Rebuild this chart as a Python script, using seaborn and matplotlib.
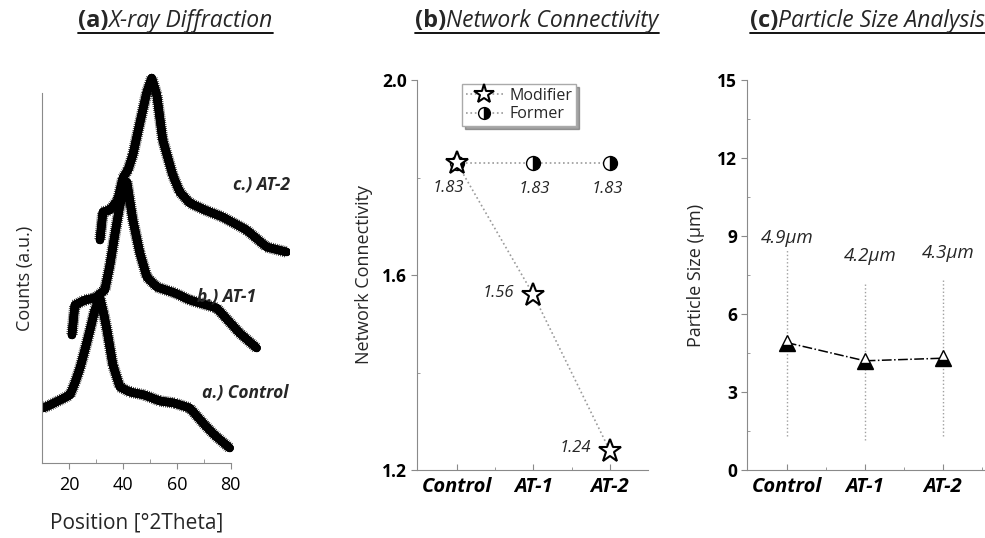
import numpy as np
import pandas as pd
import matplotlib
matplotlib.use("Agg")
import matplotlib.pyplot as plt
from matplotlib.lines import Line2D
import matplotlib.patheffects as pe
import seaborn as sns

# ---------------- data ----------------
# (a) XRD traces (approximate centre of the noisy band), counts in arbitrary units
ctrl_x = [10.4, 13, 16.7, 20.4, 22.2, 24.1, 25.9, 27.8, 29.6, 31.5, 33, 34.1, 36.3, 38.9,
          42.6, 48, 53.7, 59, 64.8, 70.4, 74, 79.6]
ctrl_y = [55, 58, 63, 68, 80, 95, 113, 133, 153, 165, 148, 133, 98, 76,
          71, 68, 62, 60, 55, 38, 28, 15]
at1_x = [21.1, 22.2, 25.9, 29.6, 33.3, 35.2, 37, 38.9, 41.5, 43.7, 46.3, 48.9, 52.6, 59.3,
         64.8, 74.8, 83.3, 89.6]
at1_y = [128, 158, 163, 165, 173, 198, 228, 258, 281, 243, 210, 186, 176, 170,
         163, 155, 130, 115]
at2_x = [31.5, 32.6, 35.2, 38.1, 40, 41.9, 43.7, 46.3, 48.9, 50.7, 52.6, 54.8, 58.5, 61.1,
         64.8, 70.4, 77, 85.9, 93.3, 100.7]
at2_y = [223, 251, 253, 263, 285, 293, 308, 340, 371, 385, 368, 323, 288, 271,
         260, 253, 246, 233, 216, 211]
xrd_labels = ["a.) Control", "b.) AT-1", "c.) AT-2"]
xrd_ticks = [20, 40, 60, 80]

# (b) network connectivity
groups = ["Control", "AT-1", "AT-2"]
modifier = [1.83, 1.56, 1.24]
former = [1.83, 1.83, 1.83]
nc_ticks = [1.2, 1.6, 2.0]

# (c) particle size
psize = [4.9, 4.2, 4.3]
psize_err = [3.6, 3.05, 3.0]
ps_labels = ["4.9\u03bcm", "4.2\u03bcm", "4.3\u03bcm"]
ps_ticks = [0, 3, 6, 9, 12, 15]

# ---------------- style ----------------
sns.set_style("ticks")
plt.rcParams["font.family"] = ["Open Sans", "DejaVu Sans"]
plt.rcParams["axes.edgecolor"] = "#8a8a8a"
plt.rcParams["xtick.color"] = "#8a8a8a"
plt.rcParams["ytick.color"] = "#8a8a8a"
plt.rcParams["xtick.labelcolor"] = "black"
plt.rcParams["ytick.labelcolor"] = "black"

W, H = 985, 538
fig = plt.figure(figsize=(W / 100, H / 100), dpi=100)
fig.canvas.draw()
renderer = fig.canvas.get_renderer()

def rect(l, r, t, b):
    return [l / W, 1 - b / H, (r - l) / W, (b - t) / H]

def title(xa, text_a, text_b):
    ta = fig.text(xa / W, 1 - 27 / H, text_a, fontsize=17, fontweight="bold", ha="left", va="baseline")
    wa = ta.get_window_extent(renderer).x1
    tb = fig.text(wa / W, 1 - 27 / H, text_b, fontsize=16.5, fontstyle="italic", ha="left", va="baseline")
    wb = tb.get_window_extent(renderer).x1
    fig.add_artist(Line2D([xa / W, wb / W], [1 - 33 / H, 1 - 33 / H], color="black", lw=1.3,
                          transform=fig.transFigure))

# ---------------- (a) ----------------
axa = fig.add_axes(rect(42, 290, 43, 463))
df = pd.concat([
    pd.DataFrame({"x": ctrl_x, "y": ctrl_y, "s": xrd_labels[0]}),
    pd.DataFrame({"x": at1_x, "y": at1_y, "s": xrd_labels[1]}),
    pd.DataFrame({"x": at2_x, "y": at2_y, "s": xrd_labels[2]}),
])
sns.lineplot(data=df, x="x", y="y", units="s", estimator=None, color="black", lw=6,
             ax=axa, sort=False)
fuzz = [pe.withTickedStroke(angle=90, spacing=1.4, length=2.8, linewidth=0.5),
        pe.withTickedStroke(angle=-90, spacing=1.4, length=2.8, linewidth=0.5),
        pe.Normal()]
for ln in axa.lines:
    ln.set_path_effects(fuzz)
axa.set_xlim(10, 102)
axa.set_ylim(0, 420)
axa.spines["top"].set_visible(False)
axa.spines["right"].set_visible(False)
axa.spines["bottom"].set_bounds(10, 80)
axa.spines["left"].set_bounds(0, 370)
axa.set_xticks(xrd_ticks)
axa.set_xticks([10, 30, 50, 70], minor=True)
axa.set_yticks([])
axa.tick_params(axis="x", which="major", direction="out", length=4, labelsize=13, pad=5)
axa.tick_params(axis="x", which="minor", direction="in", length=3)
axa.set_xlabel("Position [\u00b02Theta]", fontsize=15)
axa.xaxis.set_label_coords((137 - 42) / 248, -(512 - 463) / 420)
axa.set_ylabel("Counts (a.u.)", fontsize=13)
axa.yaxis.set_label_coords(-(42 - 34) / 248, (463 - 278) / 420)
lab_pos = [(245, 392), (227, 297), (262, 185)]
for lab, (px, py) in zip(xrd_labels, lab_pos):
    fig.text(px / W, 1 - py / H, lab, fontsize=12.5, fontweight="bold", fontstyle="italic",
             ha="center", va="center")
title(78, "(a)", "X-ray Diffraction")

# ---------------- (b) ----------------
axb = fig.add_axes(rect(417, 648, 80, 470))
xpos = np.arange(len(groups))
axb.plot(xpos, former, linestyle=":", color="#9a9a9a", lw=1.2, marker="o", markersize=10,
         fillstyle="right", markerfacecolor="black", markerfacecoloralt="white",
         markeredgecolor="black", markeredgewidth=1.0, label="Former", zorder=2)
axb.plot(xpos, modifier, linestyle=":", color="#9a9a9a", lw=1.2, marker="*", markersize=17,
         markerfacecolor="white", markeredgecolor="black", markeredgewidth=1.5,
         label="Modifier", zorder=3)
h, l = axb.get_legend_handles_labels()
leg = axb.legend(h[::-1], l[::-1], loc="upper left", bbox_to_anchor=(0.16, 1.01), fontsize=11.5,
                 shadow=True, fancybox=False, framealpha=1, edgecolor="#aaaaaa",
                 handlelength=2.3, borderpad=0.25, labelspacing=0.15, handletextpad=0.4,
                 markerscale=0.85)
for i, (x, y) in enumerate(zip(xpos, modifier)):
    if i == 0:
        axb.annotate(f"{y:.2f}", (x, y), xytext=(-6, -18), textcoords="offset points",
                     ha="center", va="center", fontsize=12, fontstyle="italic")
    else:
        axb.annotate(f"{y:.2f}", (x, y), xytext=(-25, 1 if i == 1 else 2), textcoords="offset points",
                     ha="center", va="center", fontsize=12, fontstyle="italic")
for i, (x, y) in enumerate(zip(xpos, former)):
    if i > 0:
        axb.annotate(f"{y:.2f}", (x, y), xytext=(1 if i == 1 else -2, -19), textcoords="offset points",
                     ha="center", va="center", fontsize=12, fontstyle="italic")
axb.set_xlim(-0.52, 2.5)
axb.set_ylim(1.2, 2.0)
axb.set_xticks(xpos)
axb.set_xticklabels(groups, fontsize=14.5, fontweight="bold", fontstyle="italic")
axb.set_xticks([0.5, 1.5], minor=True)
axb.set_yticks(nc_ticks)
axb.set_yticklabels([f"{t:.1f}" for t in nc_ticks], fontsize=12.5, fontweight="bold")
axb.set_yticks([1.4, 1.8], minor=True)
axb.tick_params(axis="x", which="major", direction="in", length=4, pad=5)
axb.tick_params(axis="x", which="minor", direction="in", length=2)
axb.tick_params(axis="y", which="major", direction="out", length=4, pad=3)
axb.tick_params(axis="y", which="minor", direction="in", length=2)
axb.spines["top"].set_visible(False)
axb.spines["right"].set_visible(False)
axb.set_ylabel("Network Connectivity", fontsize=13, labelpad=7)
title(415, "(b)", "Network Connectivity")

# ---------------- (c) ----------------
axc = fig.add_axes(rect(747, 985, 80, 470))
eb = axc.errorbar(xpos, psize, yerr=psize_err, fmt="none", ecolor="#a0a0a0", elinewidth=1.0,
                  capsize=0, zorder=1)
eb[2][0].set_linestyle(":")
sns.lineplot(x=xpos, y=psize, ax=axc, color="black", lw=1.1, linestyle="-.", zorder=2)
axc.plot(xpos, psize, linestyle="none", marker="^", markersize=11, fillstyle="bottom",
         markerfacecolor="black", markerfacecoloralt="white", markeredgecolor="black",
         markeredgewidth=1.0, zorder=3)
for i, (x, y, lab) in enumerate(zip(xpos, psize, ps_labels)):
    axc.annotate(lab, (x, y), xytext=(0 if i == 0 else 4, 75.5), textcoords="offset points",
                 ha="center", va="center", fontsize=13.5, fontstyle="italic")
axc.set_xlim(-0.51, 2.54)
axc.set_ylim(0, 15)
axc.set_xticks(xpos)
axc.set_xticklabels(groups, fontsize=14.5, fontweight="bold", fontstyle="italic")
axc.set_xticks([0.5, 1.5, 2.5], minor=True)
axc.set_yticks(ps_ticks)
axc.set_yticklabels([str(t) for t in ps_ticks], fontsize=12.5, fontweight="bold")
axc.set_yticks([1.5, 4.5, 7.5, 10.5, 13.5], minor=True)
axc.tick_params(axis="x", which="major", direction="in", length=4, pad=5)
axc.tick_params(axis="x", which="minor", direction="in", length=2)
axc.tick_params(axis="y", which="major", direction="out", length=4, pad=3)
axc.tick_params(axis="y", which="minor", direction="in", length=2)
axc.spines["top"].set_visible(False)
axc.spines["right"].set_visible(False)
axc.set_ylabel("Particle Size (\u03bcm)", fontsize=13, labelpad=9)
title(750, "(c)", "Particle Size Analysis")

fig.savefig("out.png", dpi=100)
